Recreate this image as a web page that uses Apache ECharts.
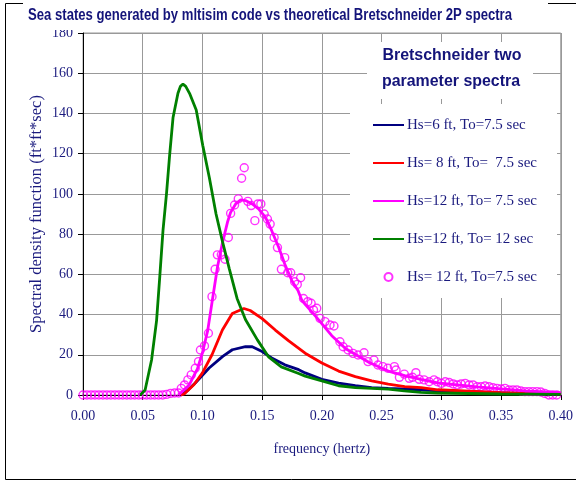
<!DOCTYPE html>
<html>
<head>
<meta charset="utf-8">
<script src="https://cdn.jsdelivr.net/npm/echarts/dist/echarts.min.js"></script>
<style>html,body{margin:0;padding:0;background:#fff;}#c{width:576px;height:482px;}</style>
</head>
<body>
<div id="c"></div>
<script>
// ---- data ----
const titleText = 'Sea states generated by mltisim code vs theoretical Bretschneider 2P spectra';
const legendTitle1 = 'Bretschneider two';
const legendTitle2 = 'parameter spectra';
const xName = 'frequency (hertz)';
const yName = 'Spectral density function (ft*ft*sec)';
const seriesNames = ['Hs=6 ft, To=7.5 sec', 'Hs= 8 ft, To=  7.5 sec', 'Hs=12 ft, To= 7.5 sec', 'Hs=12 ft, To= 12 sec', 'Hs= 12 ft, To=7.5 sec'];

const blueFreq = [0.083,0.0885,0.094,0.1056,0.117,0.125,0.136,0.1417,0.150,0.158,0.169,0.1806,0.186,0.200,0.214,0.228,0.2417,0.2556,0.283,0.297,0.35,0.40];
const blueVal  = [0,2.8,6,13.4,19.2,22.5,24,24,21.6,18.4,15,12.6,11,7.8,5.9,4.6,3.7,3.3,2.6,2.1,1,0.5];

const redFreq = [0.082,0.0847,0.093,0.100,0.108,0.1167,0.125,0.1347,0.140,0.150,0.161,0.172,0.186,0.200,0.214,0.228,0.2417,0.2556,0.2694,0.2833,0.297,0.35,0.40];
const redVal  = [0,0.5,5.2,11,20,32.3,40.5,43,42,38,32.3,27,20.8,15.9,11.9,9.1,7,5.4,4.2,3.7,2.6,1.2,0.6];

const magFreq = [0.080,0.0889,0.0958,0.100,0.1044,0.108,0.1127,0.1169,0.121,0.1236,0.1278,0.132,0.136,0.1417,0.147,0.1528,0.158,0.1639,0.169,0.175,0.180,0.1833,0.195,0.2083,0.22,0.24,0.2556,0.27,0.283,0.297,0.33,0.35,0.37,0.40];
const magVal  = [0,5,13,21,32,46,64,76,86,90.8,95,97,96.7,95,92.5,88.3,81.7,73.3,65,56.7,52,47,39,29.5,23,16,11.9,9.5,7.8,6,4,3,2,1.2];

const greenFreq = [0.048,0.052,0.0574,0.0616,0.0643,0.067,0.0699,0.0725,0.0754,0.0795,0.0816,0.0837,0.0860,0.0892,0.0948,0.1003,0.1058,0.1114,0.1169,0.1224,0.129,0.136,0.146,0.1556,0.166,0.18,0.186,0.20,0.214,0.228,0.2556,0.269,0.283,0.297,0.35,0.40];
const greenVal  = [0,2.5,17.4,37,59,82,100,119,138,150,153.5,154.6,153.5,150,141.7,124,108,90,76,63,48,37.5,27.4,18.8,14,10.8,9.4,7,4.6,3.7,2.9,2.1,1.3,1,0.5,0.3];

const simFreq = [0,0.0033,0.0067,0.010,0.0133,0.0167,0.020,0.0233,0.0267,0.030,0.0333,0.0367,0.040,0.0433,0.0467,0.050,0.0533,0.0567,0.060,0.0633,0.0667,0.070,0.0733,0.0767,0.080,
  0.0823,0.085,0.0878,0.0906,0.094,0.0967,0.0983,0.1017,0.105,0.108,0.1106,0.1125,0.1158,0.1189,0.1217,0.1236,0.1269,0.130,0.1328,0.135,0.138,0.1408,0.1439,0.1464,0.1489,0.1517,0.1544,0.1567,0.160,0.1628,0.1661,0.1689,0.1714,0.1739,0.1772,0.1794,0.1822,0.1846,0.1882,0.191,0.193,0.1957,0.1985,0.2026,0.2068,0.2101,0.2151,0.2178,0.222,0.2261,0.2303,0.2353,0.2386,0.2436,0.2469,0.251,0.2552,0.2607,0.2621,0.2649,0.269,0.2732,0.2759,0.2787,0.2815,0.2856,0.2898,0.2939,0.2967,0.300,0.3033,0.3066,0.310,0.3133,0.3166,0.320,0.3233,0.3266,0.330,0.3333,0.3366,0.340,0.3433,0.3466,0.350,0.3533,0.3566,0.360,0.3633,0.3666,0.370,0.3733,0.3766,0.380,0.3833,0.3866,0.390,0.3933,0.3966];
const simVal = [0,0,0,0,0,0,0,0,0,0,0,0,0,0,0,0,0,0,0,0,0,0.3,0.8,1,1,
  3.3,5,7.5,10,13.3,16.6,22.4,24.4,30.7,48.9,62.5,69.7,69.7,67.5,78.3,90.3,94.5,97.5,107.8,113,96.3,94.2,86.7,95,95,90,87.5,85,78.3,73.3,62.5,68.3,60.8,60.8,56.3,55,58.3,48,46.4,45.6,42.3,43.1,38.1,36.5,34.8,34.3,26.5,24,22.4,20.7,19.9,21,16.6,17.4,14.9,14.1,13.3,14.1,12.4,8.8,10.4,8.3,8.8,11.1,7.8,7.5,6.6,7.5,6.6,5.8,6.6,6.2,5.5,5,5.5,5.8,5,5,4.1,4.1,4.5,4.1,3.6,3.3,3.0,3.3,2.5,2.5,2.5,2,1.7,1.7,1.7,1.7,1.5,0.8,0,0,0];

const xMin = 0, xMax = 0.4, xStep = 0.05;
const yMin = 0, yMax = 180, yStep = 20;

// ---- build ----
const zip = (a, b) => a.map((v, i) => [v, b[i]]);
const NAVY = '#1a1a7e';
const SERIF = '"Liberation Serif","Times New Roman",serif';
const SANS = '"Liberation Sans",Arial,sans-serif';

function fitScale(text, font, target) {
  const ctx = document.createElement('canvas').getContext('2d');
  ctx.font = font;
  return target / ctx.measureText(text).width;
}
const tFont = 'bold 16px ' + SANS;
const tScale = fitScale(titleText, tFont, 484);
const lFont = 'bold 16px ' + SANS;
const l1Scale = fitScale(legendTitle1, lFont, 139);
const l2Scale = fitScale(legendTitle2, lFont, 138);

const chart = echarts.init(document.getElementById('c'), null, {renderer: 'canvas'});
const lineCommon = (color) => ({type: 'line', symbol: 'none', clip: false, smooth: false,
  lineStyle: {color: color, width: 2.8}, itemStyle: {color: 'rgba(0,0,0,0)'}});

chart.setOption({
  animation: false,
  backgroundColor: '#fff',
  grid: {left: 83, right: 11, top: 33, bottom: 87, show: true, borderColor: '#999', borderWidth: 1},
  xAxis: {
    type: 'value', min: xMin, max: xMax, interval: xStep,
    name: xName, nameLocation: 'middle', nameGap: 47, nameMoveOverlap: false,
    nameTextStyle: {fontFamily: SERIF, fontSize: 14, color: NAVY},
    axisLine: {show: true, onZero: false, lineStyle: {color: '#000', width: 1}},
    axisTick: {show: true, length: 5, lineStyle: {color: '#000'}},
    axisLabel: {margin: 14, fontFamily: SERIF, fontSize: 14, color: NAVY, formatter: v => v.toFixed(2)},
    splitLine: {show: true, lineStyle: {color: '#999', width: 1}}
  },
  yAxis: {
    type: 'value', min: yMin, max: yMax, interval: yStep,
    name: yName, nameLocation: 'middle', nameGap: 38, nameMoveOverlap: false,
    nameTextStyle: {fontFamily: SERIF, fontSize: 16.5, color: NAVY},
    axisLine: {show: true, lineStyle: {color: '#000', width: 1}},
    axisTick: {show: true, length: 5, lineStyle: {color: '#000'}},
    axisLabel: {margin: 10, fontFamily: SERIF, fontSize: 14, color: NAVY},
    splitLine: {show: true, lineStyle: {color: '#999', width: 1}}
  },
  legend: {
    orient: 'vertical', left: 350, top: 104,
    padding: [13, 20, 13, 22],
    backgroundColor: '#fff',
    itemWidth: 31, itemHeight: 8, itemGap: 22,
    textStyle: {fontFamily: SERIF, fontSize: 15, color: NAVY, lineHeight: 16, padding: [0, 0, 0, -2]},
    data: seriesNames
  },
  series: [
    Object.assign(lineCommon('#000080'), {name: seriesNames[0], data: zip(blueFreq, blueVal)}),
    Object.assign(lineCommon('#ff0000'), {name: seriesNames[1], data: zip(redFreq, redVal)}),
    Object.assign(lineCommon('#ff00ff'), {name: seriesNames[2], data: zip(magFreq, magVal)}),
    Object.assign(lineCommon('#008000'), {name: seriesNames[3], data: zip(greenFreq, greenVal)}),
    {type: 'scatter', name: seriesNames[4], clip: false, symbol: 'circle', symbolSize: 8,
     itemStyle: {color: 'rgba(255,255,255,0)', borderColor: '#ff00ff', borderWidth: 1.4},
     data: zip(simFreq, simVal)}
  ],
  graphic: [
    {type: 'rect', z: 90, shape: {x: 5.5, y: 3.5, width: 620, height: 476}, style: {fill: null, stroke: '#000', lineWidth: 1}},
    {type: 'rect', z: 100, shape: {x: 23, y: 0, width: 525, height: 30}, style: {fill: '#fff'}},
    {type: 'text', z: 101, x: 28, y: 16, scaleX: tScale, scaleY: 1,
     style: {text: titleText, font: tFont, fill: '#14147a', textAlign: 'left', textVerticalAlign: 'middle'}},
    {type: 'rect', z: 100, shape: {x: 367, y: 42, width: 166, height: 57}, style: {fill: '#fff'}},
    {type: 'text', z: 101, x: 452, y: 56, scaleX: l1Scale, scaleY: 1,
     style: {text: legendTitle1, font: lFont, fill: '#14147a', textAlign: 'center', textVerticalAlign: 'middle'}},
    {type: 'text', z: 101, x: 451, y: 82, scaleX: l2Scale, scaleY: 1,
     style: {text: legendTitle2, font: lFont, fill: '#14147a', textAlign: 'center', textVerticalAlign: 'middle'}}
  ]
});
</script>
</body>
</html>
